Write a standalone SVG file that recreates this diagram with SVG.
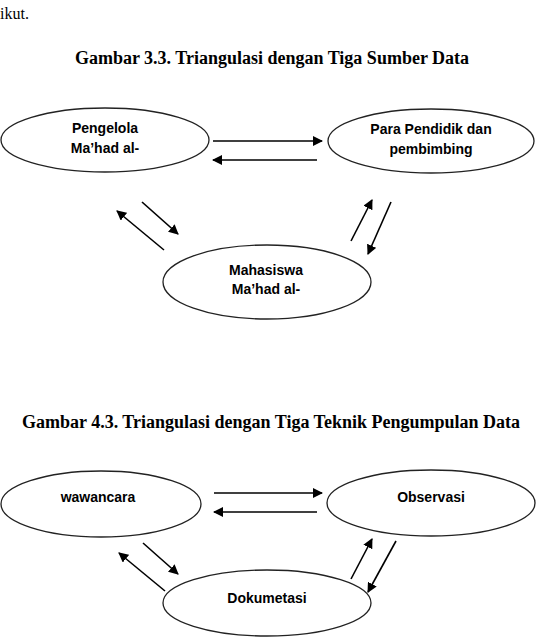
<svg xmlns="http://www.w3.org/2000/svg" width="541" height="640" viewBox="0 0 541 640">
  <defs>
    <marker id="head" viewBox="0 0 10 10" refX="9" refY="5" markerWidth="10" markerHeight="10" markerUnits="userSpaceOnUse" orient="auto">
      <path d="M0,0 L10,5 L0,10 z" fill="#000"/>
    </marker>
  </defs>
  <style>
    .body { font-family: "Liberation Serif", "Times New Roman", serif; font-size: 16px; fill: #000; }
    .title { font-family: "Liberation Serif", "Times New Roman", serif; font-size: 18px; font-weight: bold; fill: #000; text-anchor: middle; }
    .node ellipse { fill: #fff; stroke: #222; stroke-width: 1.3; }
    .node text { font-family: "Liberation Sans", Arial, sans-serif; font-size: 14px; font-weight: bold; fill: #000; text-anchor: middle; }
    .links line { stroke: #000; stroke-width: 1.6; marker-end: url(#head); }
  </style>
  <rect width="541" height="640" fill="#fff"/>

  <text class="body" x="0" y="19">ikut.</text>

  <!-- first figure: three data sources -->
  <text class="title" x="272" y="64">Gambar 3.3. Triangulasi dengan Tiga Sumber Data</text>

  <g id="pengelola" class="node">
    <ellipse cx="105" cy="140" rx="104" ry="32"/>
    <text x="105" y="133">Pengelola</text>
    <text x="105" y="153">Ma’had al-</text>
  </g>
  <g id="pendidik" class="node">
    <ellipse cx="431" cy="141" rx="103" ry="32"/>
    <text x="431" y="134">Para Pendidik dan</text>
    <text x="431" y="154">pembimbing</text>
  </g>
  <g id="mahasiswa" class="node">
    <ellipse cx="267" cy="282" rx="104" ry="37"/>
    <text x="266" y="275">Mahasiswa</text>
    <text x="266" y="294">Ma’had al-</text>
  </g>

  <g id="links-1" class="links">
    <line x1="213" y1="141" x2="322" y2="141"/>
    <line x1="317" y1="160" x2="213" y2="160"/>
    <line x1="142" y1="202" x2="178" y2="234"/>
    <line x1="164" y1="250" x2="117" y2="211"/>
    <line x1="351" y1="241" x2="372" y2="200"/>
    <line x1="391" y1="202" x2="368" y2="254"/>
  </g>

  <!-- second figure: three collection techniques -->
  <text class="title" x="271" y="428">Gambar 4.3. Triangulasi dengan Tiga Teknik Pengumpulan Data</text>

  <g id="wawancara" class="node">
    <ellipse cx="101" cy="504" rx="100" ry="33"/>
    <text x="98" y="502">wawancara</text>
  </g>
  <g id="observasi" class="node">
    <ellipse cx="431" cy="503" rx="104" ry="33"/>
    <text x="431" y="502">Observasi</text>
  </g>
  <g id="dokumetasi" class="node">
    <ellipse cx="267" cy="603" rx="104" ry="33"/>
    <text x="267" y="603">Dokumetasi</text>
  </g>

  <g id="links-2" class="links">
    <line x1="214" y1="493" x2="322" y2="493"/>
    <line x1="317" y1="512" x2="214" y2="512"/>
    <line x1="143" y1="543" x2="178" y2="574"/>
    <line x1="165" y1="591" x2="119" y2="553"/>
    <line x1="351" y1="579" x2="372" y2="539"/>
    <line x1="396" y1="541" x2="368" y2="592"/>
  </g>
</svg>
